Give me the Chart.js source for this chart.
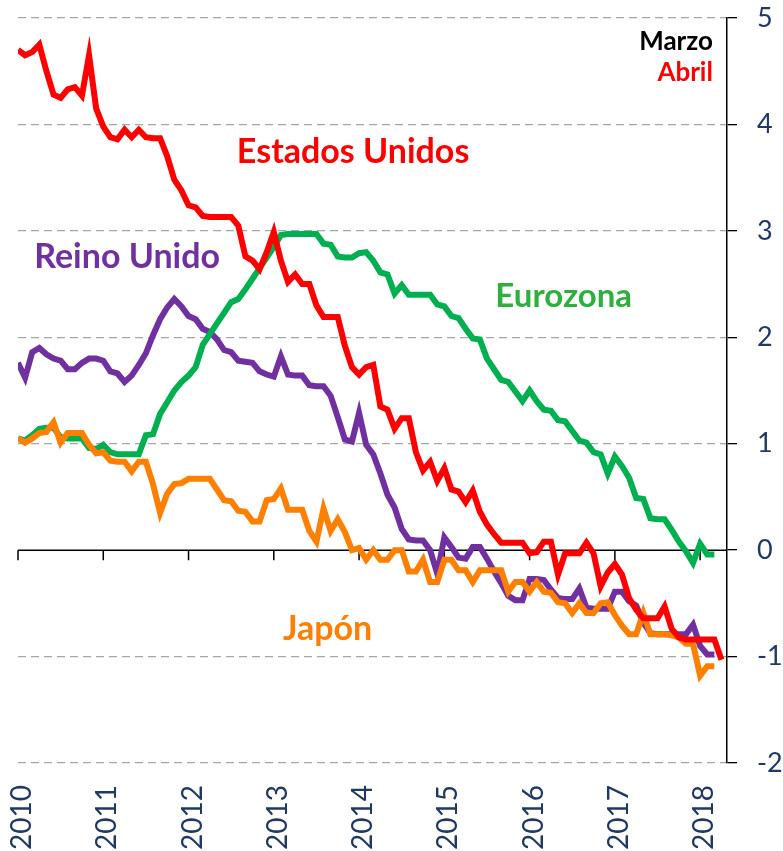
<!DOCTYPE html>
<html>
<head>
<meta charset="utf-8">
<script src="https://cdn.jsdelivr.net/npm/chart.js@4/dist/chart.umd.min.js"></script>
<style>
    html, body { margin: 0; padding: 0; background: #fff; }
    #wrap { width: 783px; height: 851px; }
</style>
</head>
<body>
<div id="wrap"><canvas id="chart" width="783" height="851"></canvas></div>
<script>
const START_YEAR = 2010;
const YEAR_TICKS = [2010, 2011, 2012, 2013, 2014, 2015, 2016, 2017, 2018];

// monthly values, Jan 2010 onward (US runs to April 2018, others to March 2018)
const estadosUnidos = [
    4.70, 4.65, 4.68, 4.75, 4.50, 4.28, 4.25, 4.33, 4.35, 4.27,
    4.65, 4.15, 3.98, 3.88, 3.86, 3.95, 3.88, 3.95, 3.88, 3.87,
    3.87, 3.70, 3.48, 3.38, 3.24, 3.22, 3.14, 3.13, 3.13, 3.13,
    3.13, 3.05, 2.76, 2.72, 2.64, 2.80, 2.99, 2.72, 2.52, 2.59,
    2.50, 2.50, 2.30, 2.19, 2.19, 2.19, 1.92, 1.72, 1.65, 1.72,
    1.74, 1.35, 1.32, 1.14, 1.24, 1.24, 0.92, 0.75, 0.83, 0.65,
    0.77, 0.57, 0.55, 0.45, 0.56, 0.36, 0.24, 0.15, 0.07, 0.07,
    0.07, 0.07, -0.03, -0.02, 0.08, 0.08, -0.23, -0.03, -0.03, -0.03,
    0.07, -0.03, -0.34, -0.21, -0.13, -0.23, -0.45, -0.56, -0.64, -0.64,
    -0.64, -0.53, -0.74, -0.82, -0.84, -0.84, -0.84, -0.84, -0.84, -1.03
];
const eurozona = [
    1.05, 1.03, 1.08, 1.14, 1.15, 1.15, 1.06, 1.05, 1.05, 1.05,
    0.96, 0.95, 0.99, 0.92, 0.90, 0.90, 0.90, 0.90, 1.08, 1.09,
    1.28, 1.39, 1.50, 1.58, 1.64, 1.72, 1.93, 2.03, 2.13, 2.23,
    2.33, 2.36, 2.45, 2.55, 2.65, 2.75, 2.85, 2.96, 2.97, 2.97,
    2.97, 2.97, 2.97, 2.88, 2.87, 2.76, 2.75, 2.75, 2.79, 2.80,
    2.72, 2.61, 2.59, 2.41, 2.49, 2.40, 2.40, 2.40, 2.40, 2.31,
    2.29, 2.20, 2.18, 2.08, 1.99, 1.98, 1.80, 1.70, 1.60, 1.58,
    1.49, 1.40, 1.50, 1.40, 1.32, 1.31, 1.22, 1.21, 1.12, 1.03,
    1.01, 0.92, 0.90, 0.72, 0.88, 0.79, 0.68, 0.49, 0.48, 0.30,
    0.29, 0.29, 0.19, 0.08, -0.01, -0.12, 0.06, -0.04, -0.04
];
const reinoUnido = [
    1.76, 1.62, 1.86, 1.90, 1.84, 1.80, 1.78, 1.70, 1.70, 1.76,
    1.80, 1.80, 1.78, 1.68, 1.66, 1.58, 1.64, 1.74, 1.85, 2.02,
    2.17, 2.28, 2.36, 2.29, 2.20, 2.17, 2.08, 2.05, 1.98, 1.88,
    1.86, 1.78, 1.77, 1.76, 1.68, 1.65, 1.63, 1.82, 1.65, 1.64,
    1.64, 1.55, 1.54, 1.54, 1.45, 1.25, 1.04, 1.02, 1.29, 0.99,
    0.90, 0.72, 0.52, 0.40, 0.20, 0.10, 0.09, 0.09, 0.00, -0.22,
    0.12, 0.03, -0.07, -0.08, 0.03, 0.03, -0.08, -0.20, -0.31, -0.43,
    -0.47, -0.47, -0.27, -0.27, -0.28, -0.37, -0.45, -0.46, -0.46, -0.36,
    -0.54, -0.55, -0.55, -0.55, -0.39, -0.39, -0.48, -0.52, -0.68, -0.78,
    -0.79, -0.79, -0.79, -0.79, -0.79, -0.70, -0.90, -0.98, -0.98
];
const japon = [
    1.05, 1.01, 1.05, 1.10, 1.11, 1.20, 1.01, 1.10, 1.10, 1.10,
    0.99, 0.91, 0.92, 0.84, 0.83, 0.83, 0.74, 0.83, 0.83, 0.62,
    0.35, 0.53, 0.62, 0.63, 0.67, 0.67, 0.67, 0.67, 0.57, 0.47,
    0.46, 0.37, 0.36, 0.27, 0.27, 0.47, 0.48, 0.58, 0.38, 0.38,
    0.38, 0.18, 0.08, 0.39, 0.18, 0.29, 0.17, 0.00, 0.02, -0.09,
    0.00, -0.09, -0.09, 0.00, 0.00, -0.20, -0.20, -0.09, -0.30, -0.30,
    -0.09, -0.09, -0.19, -0.19, -0.30, -0.19, -0.19, -0.19, -0.19, -0.39,
    -0.30, -0.30, -0.39, -0.30, -0.39, -0.40, -0.49, -0.50, -0.59, -0.50,
    -0.59, -0.59, -0.50, -0.49, -0.61, -0.71, -0.79, -0.79, -0.59, -0.79,
    -0.79, -0.79, -0.80, -0.82, -0.88, -0.88, -1.18, -1.09, -1.09
];

const COLORS = {
    us: '#FF0000',
    ez: '#00B050',
    uk: '#7030A0',
    jp: '#FF7F00',
};

// text labels placed in data coordinates
const LABELS = [
    { text: 'Estados Unidos', x: 2013.93, y: 3.74, color: COLORS.us, size: 34, align: 'center' },
    { text: 'Reino Unido', x: 2011.28, y: 2.75, color: COLORS.uk, size: 34, align: 'center' },
    { text: 'Eurozona', x: 2016.40, y: 2.38, color: '#2EAF3E', size: 33, align: 'center' },
    { text: 'Japón', x: 2013.63, y: -0.74, color: COLORS.jp, size: 34, align: 'center' },
    { text: 'Marzo', x: 2018.15, y: 4.78, color: '#000000', size: 26, align: 'right' },
    { text: 'Abril', x: 2018.15, y: 4.49, color: COLORS.us, size: 26, align: 'right' },
];

function toPoints(values) {
    return values.map((v, i) => ({ x: START_YEAR + i / 12, y: v }));
}

function makeDataset(label, values, color) {
    return {
        label: label,
        data: toPoints(values),
        borderColor: color,
        backgroundColor: color,
        borderWidth: 6,
        pointRadius: 0,
        tension: 0,
        fill: false,
    };
}

const zeroLinePlugin = {
    id: 'zeroLine',
    beforeDatasetsDraw(chart) {
        const { ctx, chartArea, scales } = chart;
        const y0 = scales.y.getPixelForValue(0);
        ctx.save();
        ctx.strokeStyle = '#000';
        ctx.lineWidth = 1.5;
        ctx.beginPath();
        ctx.moveTo(chartArea.left, y0);
        ctx.lineTo(chartArea.right, y0);
        YEAR_TICKS.forEach(yr => {
            const x = scales.x.getPixelForValue(yr);
            ctx.moveTo(x, y0);
            ctx.lineTo(x, y0 + 10);
        });
        ctx.stroke();
        ctx.restore();
    }
};

const labelPlugin = {
    id: 'seriesLabels',
    afterDatasetsDraw(chart) {
        const { ctx, scales } = chart;
        ctx.save();
        ctx.textBaseline = 'middle';
        LABELS.forEach(l => {
            ctx.font = `bold ${l.size}px Lato, "Open Sans", sans-serif`;
            ctx.fillStyle = l.color;
            ctx.textAlign = l.align;
            ctx.fillText(l.text, scales.x.getPixelForValue(l.x), scales.y.getPixelForValue(l.y));
        });
        ctx.restore();
    }
};

function init() {
    const ctx = document.getElementById('chart').getContext('2d');
    new Chart(ctx, {
        type: 'line',
        data: {
            datasets: [
                makeDataset('Estados Unidos', estadosUnidos, COLORS.us),
                makeDataset('Japón', japon, COLORS.jp),
                makeDataset('Eurozona', eurozona, COLORS.ez),
                makeDataset('Reino Unido', reinoUnido, COLORS.uk),
            ]
        },
        options: {
            responsive: false,
            animation: false,
            layout: { padding: { left: 18, top: 18, right: 0, bottom: 0 } },
            plugins: {
                legend: { display: false },
                tooltip: { enabled: false },
            },
            scales: {
                x: {
                    type: 'linear',
                    position: 'bottom',
                    min: 2010,
                    max: 2018.315,
                    afterBuildTicks: (scale) => {
                        scale.ticks = YEAR_TICKS.map(v => ({ value: v }));
                    },
                    afterFit: (scale) => {
                        scale.height = 88;
                        scale.paddingLeft = 0;
                        scale.paddingRight = 0;
                    },
                    grid: { display: false, drawTicks: false },
                    border: { display: false },
                    ticks: {
                        minRotation: 90,
                        maxRotation: 90,
                        padding: 22,
                        labelOffset: 4,
                        color: '#1F3864',
                        font: { family: 'Lato', size: 28 },
                        callback: (v) => String(v),
                    }
                },
                y: {
                    position: 'right',
                    min: -2,
                    max: 5,
                    afterFit: (scale) => {
                        scale.width = 56;
                        scale.paddingTop = 0;
                        scale.paddingBottom = 0;
                    },
                    grid: {
                        color: (c) => c.tick && c.tick.value === 0 ? 'rgba(0,0,0,0)' : '#A6A6A6',
                        lineWidth: 1.3,
                        drawTicks: true,
                        tickLength: 10,
                        tickColor: '#000',
                        tickWidth: 1.3,
                    },
                    border: { display: true, color: '#000', width: 1.5, dash: [8, 5] },
                    ticks: {
                        stepSize: 1,
                        padding: 20,
                        color: '#1F3864',
                        font: { family: 'Lato', size: 27 },
                        callback: (v) => String(v),
                    }
                }
            }
        },
        plugins: [zeroLinePlugin, labelPlugin]
    });
}

document.addEventListener('DOMContentLoaded', init);
</script>
</body>
</html>
